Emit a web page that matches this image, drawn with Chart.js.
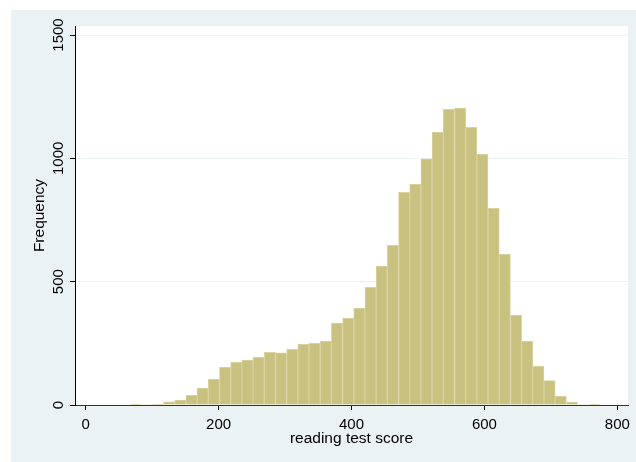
<!DOCTYPE html>
<html>
<head>
<meta charset="utf-8">
<script src="https://cdn.jsdelivr.net/npm/chart.js@4/dist/chart.umd.min.js"></script>
<style>
  html, body { margin: 0; padding: 0; background: #ffffff; }
  #wrap { width: 636px; height: 462px; }
</style>
</head>
<body>
<div id="wrap"><canvas id="hist" width="636" height="462"></canvas></div>
<script>
// Lower edges of the histogram bins (reading test score)
const binEdges = [66.6, 83.4, 100.3, 117.1, 134.0, 150.8, 167.6, 184.5, 201.3, 218.2,
  235.0, 251.8, 268.7, 285.5, 302.4, 319.2, 336.0, 352.9, 369.7, 386.6,
  403.4, 420.2, 437.1, 453.9, 470.8, 487.6, 504.4, 521.3, 538.1, 555.0,
  571.8, 588.6, 605.5, 622.3, 639.2, 656.0, 672.8, 689.7, 706.5, 723.4,
  740.2, 757.0];
const binWidth = 16.84;

// Number of students in each bin
const frequency = [1, 2, 4, 13, 20, 39, 69, 104, 153, 173,
  182, 193, 214, 212, 226, 246, 250, 259, 332, 351,
  392, 477, 563, 647, 862, 895, 998, 1105, 1199, 1204,
  1126, 1016, 797, 611, 365, 259, 157, 99, 35, 12,
  2, 1];

// Axis tick values
const xTicks = [0, 200, 400, 600, 800];
const yTicks = [0, 500, 1000, 1500];

const points = binEdges.map((e, i) => ({ x: e + binWidth / 2, y: frequency[i] }));

const FONT = "'Liberation Sans', Arial, Helvetica, sans-serif";

// Graph region (light blue-grey) and white plot region
const backdrop = {
  id: 'backdrop',
  beforeDraw(chart) {
    const { ctx, chartArea: a } = chart;
    ctx.save();
    ctx.fillStyle = '#ffffff';
    ctx.fillRect(0, 0, chart.width, chart.height);
    ctx.fillStyle = '#eaf2f3';
    ctx.fillRect(11, 10, chart.width - 11, chart.height - 10);
    ctx.fillStyle = '#ffffff';
    ctx.fillRect(a.left, a.top, a.right - a.left, a.bottom - a.top);
    ctx.restore();
  }
};

new Chart(document.getElementById('hist'), {
  type: 'bar',
  data: {
    datasets: [{
      data: points,
      backgroundColor: '#c9c17f',
      borderColor: '#d9d29e',
      borderWidth: 1,
      barPercentage: 1,
      categoryPercentage: 1,
      grouped: false
    }]
  },
  options: {
    responsive: false,
    animation: false,
    devicePixelRatio: 1,
    layout: { padding: { left: 0, top: 26, right: 8, bottom: 0 } },
    plugins: { legend: { display: false }, tooltip: { enabled: false } },
    scales: {
      x: {
        type: 'linear',
        offset: false,
        min: -16.1,
        max: 816.1,
        afterBuildTicks(scale) { scale.ticks = xTicks.map(v => ({ value: v })); },
        afterFit(scale) { scale.height = 57; },
        grid: {
          offset: false,
          drawOnChartArea: false,
          drawTicks: true,
          tickLength: 5,
          tickColor: '#000000'
        },
        border: { display: true, color: '#333333', width: 1 },
        ticks: {
          font: { family: FONT, size: 15 },
          color: '#000000',
          padding: 6,
          maxRotation: 0,
          autoSkip: false,
          callback: v => String(v)
        },
        title: {
          display: true,
          text: 'reading test score',
          font: { family: FONT, size: 15.5 },
          color: '#000000',
          padding: { top: 0, bottom: 14 }
        }
      },
      y: {
        min: 0,
        max: 1536.5,
        afterBuildTicks(scale) { scale.ticks = yTicks.map(v => ({ value: v })); },
        afterFit(scale) { scale.width = 75; },
        grid: {
          color: '#eaf2f3',
          lineWidth: 1,
          drawTicks: true,
          tickLength: 5,
          tickColor: '#000000'
        },
        border: { display: true, color: '#000000', width: 1 },
        ticks: {
          font: { family: FONT, size: 15 },
          color: '#000000',
          minRotation: 90,
          maxRotation: 90,
          crossAlign: 'center',
          padding: -6,
          autoSkip: false,
          callback: v => String(v)
        },
        title: {
          display: true,
          text: 'Frequency',
          font: { family: FONT, size: 15.5 },
          color: '#000000',
          padding: { top: 30, bottom: 0 }
        }
      }
    }
  },
  plugins: [backdrop]
});
</script>
</body>
</html>
